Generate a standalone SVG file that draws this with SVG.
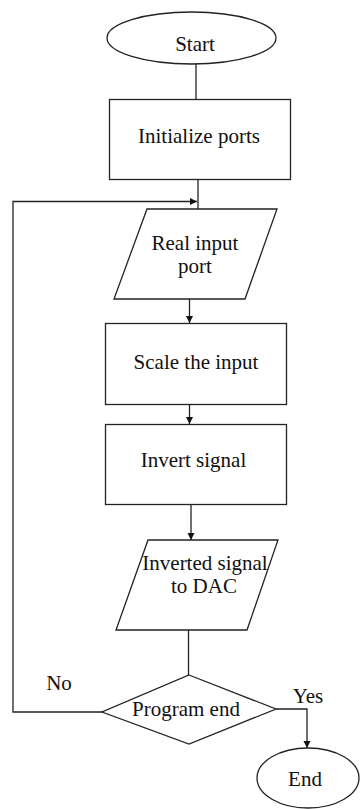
<svg xmlns="http://www.w3.org/2000/svg" width="360" height="810" viewBox="0 0 360 810">
<defs>
<style>
.s{fill:#fff;stroke:#222;stroke-width:1.3}
.c{fill:none;stroke:#222;stroke-width:1.3}
.t{font-size:21px;fill:#111;text-anchor:middle}
</style>
<marker id="ah" markerWidth="8" markerHeight="8" refX="7" refY="4" orient="auto" markerUnits="userSpaceOnUse">
<path d="M0,0.5 L7,4 L0,7.5 Z" fill="#111"/>
</marker>
</defs>
<rect width="360" height="810" fill="#fff"/>
<g id="connectors">
<line class="c" x1="196" y1="64" x2="196" y2="99"/>
<line class="c" x1="198" y1="179" x2="198" y2="209"/>
<polyline class="c" points="102,712 13,712 13,201.5 197,201.5" marker-end="url(#ah)"/>
<line class="c" x1="189.5" y1="299" x2="189.5" y2="323" marker-end="url(#ah)"/>
<line class="c" x1="189.5" y1="404" x2="189.5" y2="424" marker-end="url(#ah)"/>
<line class="c" x1="191" y1="504" x2="191" y2="540" marker-end="url(#ah)"/>
<line class="c" x1="188.5" y1="630" x2="188.5" y2="675"/>
<polyline class="c" points="276,709 307,709 307,748" marker-end="url(#ah)"/>
<text class="t" font-family="Liberation Serif" x="59" y="690">No</text>
<text class="t" font-family="Liberation Serif" x="308" y="703">Yes</text>
</g>
<g id="start">
<ellipse class="s" cx="191.5" cy="38" rx="84.5" ry="26"/>
<text class="t" font-family="Liberation Serif" x="195" y="51">Start</text>
</g>
<g id="init">
<rect class="s" x="109.5" y="99.5" width="181" height="80"/>
<text class="t" font-family="Liberation Serif" x="199" y="143">Initialize ports</text>
</g>
<g id="realinput">
<polygon class="s" points="147,209 277,209 245,299 114,299"/>
<text class="t" font-family="Liberation Serif" x="195" y="250">Real input</text>
<text class="t" font-family="Liberation Serif" x="195" y="273">port</text>
</g>
<g id="scale">
<rect class="s" x="105.5" y="323.5" width="181" height="81"/>
<text class="t" font-family="Liberation Serif" x="196" y="369">Scale the input</text>
</g>
<g id="invert">
<rect class="s" x="105.5" y="424.5" width="181" height="80"/>
<text class="t" font-family="Liberation Serif" x="193.5" y="467">Invert signal</text>
</g>
<g id="todac">
<polygon class="s" points="148,540 278,540 247,630 116,630"/>
<text class="t" font-family="Liberation Serif" x="205" y="570">Inverted signal</text>
<text class="t" font-family="Liberation Serif" x="204" y="593">to DAC</text>
</g>
<g id="decision">
<polygon class="s" points="189,675 276,709 189,744 102,712"/>
<text class="t" font-family="Liberation Serif" x="186" y="716">Program end</text>
</g>
<g id="end">
<ellipse class="s" cx="308" cy="778" rx="51" ry="30"/>
<text class="t" font-family="Liberation Serif" x="305" y="786">End</text>
</g>
</svg>
